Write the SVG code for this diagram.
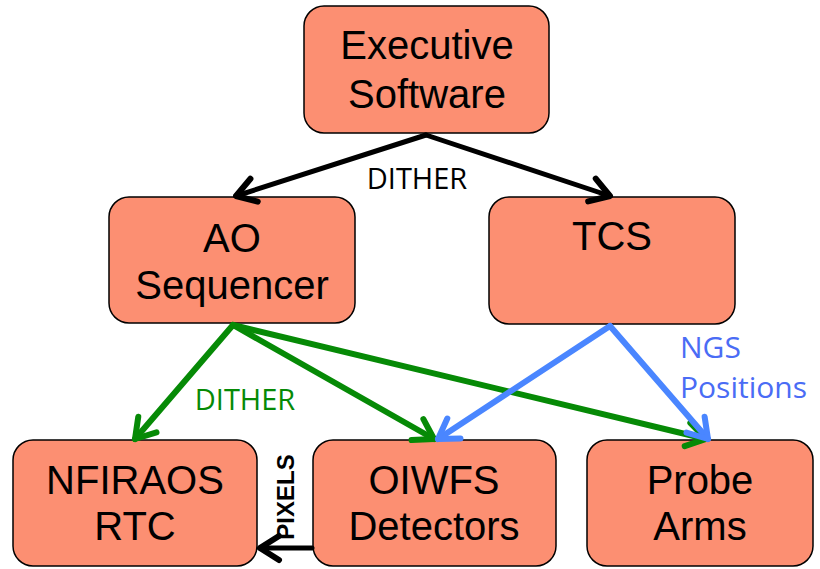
<svg xmlns="http://www.w3.org/2000/svg" width="820" height="569" viewBox="0 0 820 569">
<style>
.box{fill:#FC8F72;stroke:#000;stroke-width:1.5}
.nt{font-family:"Liberation Sans",Arial,sans-serif;font-size:40px;fill:#000;text-anchor:middle}
.lbl{font-family:"Open Sans","Liberation Sans",sans-serif;font-size:29px;text-anchor:middle}
.c{fill:none;stroke-linecap:round;stroke-linejoin:round}
</style>
<defs>
<marker id="ak" markerUnits="userSpaceOnUse" viewBox="-24 -16 28 32" markerWidth="28" markerHeight="32" refX="0" refY="0" orient="auto">
<path d="M-19,-12 L0,0 L-19,12" fill="none" stroke="#000" stroke-width="6" stroke-linecap="round" stroke-linejoin="round"/>
</marker>
<marker id="ag" markerUnits="userSpaceOnUse" viewBox="-24 -16 28 32" markerWidth="28" markerHeight="32" refX="0" refY="0" orient="auto">
<path d="M-19,-12 L0,0 L-19,12" fill="none" stroke="#068A06" stroke-width="6" stroke-linecap="round" stroke-linejoin="round"/>
</marker>
<marker id="ab" markerUnits="userSpaceOnUse" viewBox="-24 -16 28 32" markerWidth="28" markerHeight="32" refX="0" refY="0" orient="auto">
<path d="M-19,-12 L0,0 L-19,12" fill="none" stroke="#4A86FF" stroke-width="6" stroke-linecap="round" stroke-linejoin="round"/>
</marker>
</defs>
<g id="n-exec"><rect class="box" x="304" y="6" width="245" height="127" rx="20"/><text class="nt" x="427" y="59">Executive</text><text class="nt" x="427" y="108">Software</text></g>
<g id="n-ao"><rect class="box" x="109" y="197" width="246" height="126" rx="20"/><text class="nt" x="232" y="252">AO</text><text class="nt" x="232" y="299">Sequencer</text></g>
<g id="n-tcs"><rect class="box" x="489" y="197" width="246" height="127" rx="20"/><text class="nt" x="612" y="250">TCS</text></g>
<g id="n-rtc"><rect class="box" x="13" y="440" width="244" height="126" rx="20"/><text class="nt" x="135" y="494">NFIRAOS</text><text class="nt" x="135" y="540">RTC</text></g>
<g id="n-oiwfs"><rect class="box" x="313" y="440" width="243" height="126" rx="20"/><text class="nt" x="434" y="494">OIWFS</text><text class="nt" x="434" y="540">Detectors</text></g>
<g id="n-probe"><rect class="box" x="587" y="440" width="226" height="126" rx="20"/><text class="nt" x="700" y="494">Probe</text><text class="nt" x="700" y="540">Arms</text></g>
<g id="connectors">
<path class="c" d="M426,135 L236,196" stroke="#000" stroke-width="5" marker-end="url(#ak)"/>
<path class="c" d="M426,135 L610,196" stroke="#000" stroke-width="5" marker-end="url(#ak)"/>
<path class="c" d="M233,325 L135,439" stroke="#068A06" stroke-width="6" marker-end="url(#ag)"/>
<path class="c" d="M233,325 L434,439" stroke="#068A06" stroke-width="6" marker-end="url(#ag)"/>
<path class="c" d="M233,325 L706,439" stroke="#068A06" stroke-width="6" marker-end="url(#ag)"/>
<path class="c" d="M610,326 L438,439" stroke="#4A86FF" stroke-width="6" marker-end="url(#ab)"/>
<path class="c" d="M610,326 L708,439" stroke="#4A86FF" stroke-width="6" marker-end="url(#ab)"/>
<path class="c" d="M312,548 L260,548" stroke="#000" stroke-width="5" marker-end="url(#ak)"/>
<text class="lbl" x="417" y="189" fill="#000">DITHER</text>
<text class="lbl" x="245" y="410" fill="#068A06">DITHER</text>
<text class="lbl" x="680" y="358" fill="#4A6CF5" style="text-anchor:start;font-size:30px">NGS</text>
<text class="lbl" x="680" y="398" fill="#4A6CF5" style="text-anchor:start;font-size:30px">Positions</text>
<text x="0" y="0" transform="translate(294,497) rotate(-90)" style="font-family:'Liberation Sans',Arial,sans-serif;font-weight:bold;font-size:24px;text-anchor:middle" fill="#000">PIXELS</text>
</g>
</svg>
